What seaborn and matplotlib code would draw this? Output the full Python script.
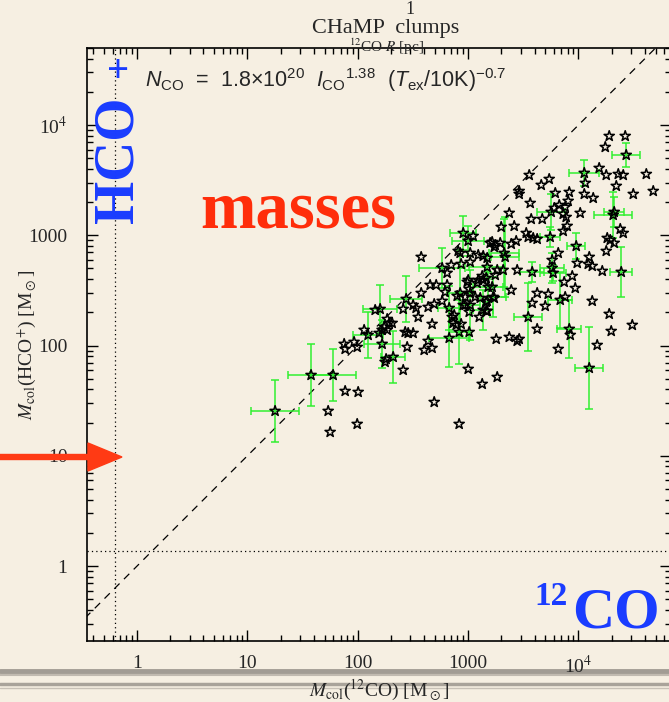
import numpy as np
import pandas as pd
import matplotlib
matplotlib.use("Agg")
import matplotlib.pyplot as plt
import seaborn as sns
from matplotlib.lines import Line2D
from matplotlib.patches import FancyArrow
from matplotlib.ticker import NullFormatter, LogLocator

# ---------------- data (log10 of masses in Msun) ----------------
log_m12co = [
    4.279, 4.424, 4.243, 4.433, 4.053, 4.188, 4.252, 4.361, 4.406, 4.615,
    3.554, 3.735, 3.663, 4.062, 4.343, 4.678, 4.497, 3.463, 3.463, 3.790,
    3.917, 4.053, 4.134, 3.907, 3.563, 3.826, 3.781, 3.880, 4.315, 4.324,
    3.373, 4.016, 3.862, 3.889, 3.753, 3.572, 3.672, 3.418, 3.300, 3.898,
    3.862, 4.379, 4.406, 3.327, 3.527, 3.545, 2.956, 3.046, 3.200, 3.237,
    3.391, 3.436, 3.590, 3.626, 3.744, 4.261, 4.288, 4.324, 3.980, 4.252,
    4.388, 3.817, 4.098, 4.125, 4.089, 3.989, 4.216, 3.944, 3.971, 3.771,
    3.835, 3.726, 3.626, 3.581, 3.699, 3.880, 4.125, 3.917, 3.926, 3.545,
    3.626, 4.279, 4.297, 4.488, 4.170, 3.817, 4.098, 3.255, 3.373, 3.445,
    3.463, 3.264, 3.128, 3.164, 3.164, 3.227, 3.391, 1.251, 1.577, 1.777,
    1.886, 2.004, 1.732, 1.995, 1.750, 1.877, 1.886, 1.967, 1.995, 2.058,
    2.094, 2.158, 2.203, 2.221, 2.267, 2.285, 2.312, 2.239, 2.267, 2.194,
    2.257, 2.248, 2.321, 2.412, 2.448, 2.439, 2.412, 2.575, 2.502, 2.529,
    2.548, 2.430, 2.457, 2.502, 2.638, 2.693, 2.765, 2.674, 2.638, 2.602,
    2.674, 2.829, 2.829, 2.919, 3.010, 3.001, 2.693, 2.919, 2.656, 2.711,
    2.792, 2.874, 2.865, 2.937, 2.956, 3.010, 3.101, 3.173, 3.019, 3.064,
    3.110, 3.173, 2.575, 3.001, 2.910, 2.928, 2.765, 2.810, 2.847, 2.937,
    3.019, 3.019, 3.092, 3.218, 3.246, 3.291, 3.173, 3.137, 2.810, 2.901,
    2.974, 3.010, 2.974, 3.237, 2.992, 3.092, 3.128, 3.164, 3.182, 3.246,
    3.264, 2.856, 2.892, 2.221, 3.336, 3.318, 3.445, 3.581, 3.762, 3.762,
    3.019, 2.928, 3.137, 3.218, 3.001, 3.082, 3.137, 3.871, 3.173,
]
log_mhco = [
    3.900, 3.900, 3.800, 3.728, 3.565, 3.610, 3.546, 3.555, 3.546, 3.555,
    3.546, 3.510, 3.456, 3.474, 3.447, 3.401, 3.374, 3.401, 3.374, 3.383,
    3.392, 3.374, 3.338, 3.311, 3.292, 3.274, 3.247, 3.256, 3.184, 3.211,
    3.202, 3.202, 3.193, 3.165, 3.211, 3.147, 3.147, 3.084, 3.075, 3.084,
    3.038, 3.057, 3.020, 2.839, 3.020, 2.984, 3.020, 2.993, 2.930, 2.893,
    2.921, 2.948, 2.975, 2.966, 2.984, 2.975, 2.957, 2.930, 2.902, 2.857,
    2.667, 2.839, 2.803, 2.721, 2.739, 2.748, 2.676, 2.630, 2.521, 2.658,
    2.413, 2.467, 2.476, 2.385, 2.358, 2.440, 2.404, 2.150, 2.095, 2.258,
    2.150, 2.286, 2.131, 2.186, 2.004, 1.968, 1.796, 2.059, 2.077, 2.041,
    2.059, 1.714, 1.651, 2.313, 2.394, 2.440, 2.503, 1.406, 1.732, 1.732,
    1.587, 1.578, 1.406, 1.288, 1.215, 2.014, 1.968, 2.032, 1.986, 2.141,
    2.095, 2.322, 2.331, 2.014, 2.240, 2.204, 2.204, 2.168, 2.141, 2.113,
    1.877, 1.850, 1.896, 1.778, 1.986, 2.422, 2.331, 2.476, 2.367, 2.340,
    2.258, 2.122, 2.113, 2.113, 2.349, 2.376, 2.404, 2.195, 2.041, 1.959,
    1.977, 2.068, 2.340, 2.122, 2.122, 1.787, 1.487, 1.288, 2.549, 2.549,
    2.485, 2.277, 2.204, 2.195, 2.367, 2.304, 2.258, 2.313, 2.476, 2.440,
    2.431, 2.404, 2.803, 2.948, 2.857, 2.839, 2.703, 2.658, 2.730, 2.739,
    2.757, 2.839, 2.821, 2.939, 2.911, 2.930, 2.794, 2.812, 2.549, 2.449,
    2.440, 2.512, 2.367, 2.431, 2.576, 2.594, 2.630, 2.612, 2.531, 2.639,
    2.685, 2.258, 2.186, 2.141, 2.803, 2.685, 2.685, 2.667, 2.775, 2.703,
    2.367, 2.476, 2.322, 2.531, 2.594, 2.567, 2.594, 2.576, 2.712,
]

# subset with error bars: centres (log10) and half-widths in dex
eb_log_m12co = [4.433, 4.053, 4.315, 4.324, 3.753, 3.327, 3.744, 3.980, 4.388, 3.771,
                3.835, 3.917, 3.545, 4.098, 3.227, 1.251, 1.577, 1.777, 2.094, 2.203,
                2.221, 2.321, 2.439, 2.829, 2.829, 2.919, 3.001, 2.765, 3.182, 2.956,
                3.336, 3.581, 3.762, 3.019, 2.928, 3.137, 3.173]
eb_log_mhco = [3.728, 3.565, 3.184, 3.211, 3.211, 2.839, 2.984, 2.902, 2.667, 2.658,
               2.413, 2.150, 2.258, 1.796, 2.440, 1.406, 1.732, 1.732, 2.095, 2.331,
               2.014, 1.896, 2.422, 2.068, 2.340, 2.122, 2.948, 2.703, 2.531, 3.020,
               2.803, 2.667, 2.703, 2.367, 2.476, 2.322, 2.712]
eb_dex_12co = [0.127, 0.136, 0.172, 0.091, 0.127, 0.136, 0.091, 0.082, 0.100, 0.118,
               0.109, 0.109, 0.127, 0.127, 0.118, 0.218, 0.209, 0.209, 0.136, 0.154,
               0.163, 0.109, 0.145, 0.181, 0.100, 0.091, 0.145, 0.209, 0.136, 0.118,
               0.127, 0.109, 0.109, 0.091, 0.118, 0.091, 0.163]
eb_dex_hco = [0.109, 0.118, 0.209, 0.136, 0.163, 0.308, 0.091, 0.118, 0.227, 0.073,
              0.254, 0.263, 0.308, 0.372, 0.181, 0.281, 0.281, 0.236, 0.209, 0.218,
              0.218, 0.236, 0.209, 0.263, 0.200, 0.290, 0.136, 0.181, 0.136, 0.154,
              0.363, 0.091, 0.136, 0.317, 0.390, 0.181, 0.109]

x_ticks = [1, 10, 100, 1000, 1e4]
x_ticklabels = ["1", "10", "100", "1000", "10$^4$"]
y_ticks = [1, 10, 100, 1000, 1e4]
y_ticklabels = ["1", "10", "100", "1000", "10$^4$"]
x_lim = (0.352, 6.9e4)
y_lim = (0.209, 5.0e4)
r_limit_mass = 0.632      # vertical dotted line
hco_limit_mass = 1.37     # horizontal dotted line

# ---------------- style ----------------
sns.set_theme(style="ticks")
BG = "#f6efe2"
plt.rcParams["font.family"] = ["Liberation Serif", "DejaVu Sans"]
plt.rcParams["mathtext.fontset"] = "stix"
plt.rcParams["mathtext.rm"] = "Liberation Sans"
plt.rcParams["mathtext.it"] = "Liberation Sans:italic"
plt.rcParams["mathtext.bf"] = "Liberation Sans:bold"

W, H = 669, 702
fig = plt.figure(figsize=(W / 100, H / 100), dpi=100, facecolor=BG)


def fx(px):
    return px / W


def fy(py):
    return 1 - py / H


ax = fig.add_axes([fx(87), fy(641), 584 / W, 593 / H])
ax.set_facecolor("none")

df = pd.DataFrame({"m12co": 10 ** np.array(log_m12co), "mhco": 10 ** np.array(log_mhco)})
eb = pd.DataFrame({
    "x": 10 ** np.array(eb_log_m12co), "y": 10 ** np.array(eb_log_mhco),
    "dx": np.array(eb_dex_12co), "dy": np.array(eb_dex_hco),
})

# error bars
ax.errorbar(
    eb["x"], eb["y"],
    xerr=[eb["x"] - eb["x"] / 10 ** eb["dx"], eb["x"] * 10 ** eb["dx"] - eb["x"]],
    yerr=[eb["y"] - eb["y"] / 10 ** eb["dy"], eb["y"] * 10 ** eb["dy"] - eb["y"]],
    fmt="none", ecolor="#2ef02e", elinewidth=1.2, capsize=3, capthick=1.2,
    alpha=0.9, zorder=2,
)

sns.scatterplot(
    data=df, x="m12co", y="mhco", marker="*", s=60,
    facecolors="none", edgecolor="black", linewidth=1.1, ax=ax, zorder=3,
)

ax.set_xscale("log")
ax.set_yscale("log")
ax.set_xlim(*x_lim)
ax.set_ylim(*y_lim)

# one-to-one line and limits
ax.plot([0.1, 1e5], [0.1, 1e5], color="black", lw=0.9, ls=(0, (6, 5)), zorder=1)
ax.axvline(r_limit_mass, color="black", lw=0.9, ls=(0, (1, 2.5)), zorder=1)
ax.axhline(hco_limit_mass, color="black", lw=0.9, ls=(0, (1, 2.5)), zorder=1)

ax.set_xticks(x_ticks)
ax.set_xticklabels(x_ticklabels)
ax.set_yticks(y_ticks)
ax.set_yticklabels(y_ticklabels)
ax.xaxis.set_minor_locator(LogLocator(base=10, subs=np.arange(2, 10)))
ax.yaxis.set_minor_locator(LogLocator(base=10, subs=np.arange(2, 10)))
ax.xaxis.set_minor_formatter(NullFormatter())
ax.yaxis.set_minor_formatter(NullFormatter())
ax.tick_params(which="both", direction="in", top=True, right=True, color="black", width=1.0)
ax.tick_params(which="major", length=8, labelsize=14)
ax.tick_params(axis="x", which="major", pad=10)
ax.tick_params(axis="y", which="major", pad=14)
ax.tick_params(which="minor", length=4)
for s in ax.spines.values():
    s.set_color("black")
    s.set_linewidth(1.2)

ax.set_xlabel(r"$\it{M}_{\rm col}$($^{12}$CO) [M$_\odot$]", fontsize=14, math_fontfamily="stix",
              va="center")
ax.xaxis.set_label_coords(0.5, -(690 - 641) / 593)
ax.set_ylabel(r"$\it{M}_{\rm col}$(HCO$^{+}$) [M$_\odot$]", fontsize=14, math_fontfamily="stix",
              va="center")
ax.yaxis.set_label_coords((27 - 87) / 584, 0.5)

# top texts (title / top axis remnants)
fig.text(fx(410), fy(9), "1", fontsize=13, ha="center", va="center")
fig.text(fx(386), fy(28), "CHaMP  clumps", fontsize=16, ha="center", va="center")
fig.text(fx(387), fy(47), r"$^{12}$CO $\it{R}$ [pc]", fontsize=11, ha="center", va="center",
         math_fontfamily="stix")

# formula
fig.text(fx(145), fy(80),
         r"$N_{\rm CO}$  =  1.8×10$^{20}$  $I_{\rm CO}$$^{1.38}$  ($T_{\rm ex}$/10K)$^{-0.7}$",
         fontsize=15.5, ha="left", va="center", family="Liberation Sans",
         math_fontfamily="custom")

# overlay annotations
BLUE = "#1a3cff"
RED = "#ff2d0a"
fig.text(fx(118), fy(160), "HCO", fontsize=40, fontweight="bold", color=BLUE,
         rotation=90, ha="center", va="center")
fig.text(fx(118), fy(72), "+", fontsize=28, fontweight="bold", color=BLUE,
         ha="center", va="center")
fig.text(fx(298), fy(228), "masses", fontsize=48, fontweight="bold", color=RED,
         ha="center", va="baseline")
fig.text(fx(534), fy(605), "12", fontsize=24, fontweight="bold", color=BLUE,
         ha="left", va="baseline")
fig.text(fx(572), fy(628), "CO", fontsize=42, fontweight="bold", color=BLUE,
         ha="left", va="baseline")

arrow = FancyArrow(0, H - 457, 122, 0, width=5, head_width=28, head_length=34,
                   length_includes_head=True, color="#ff3a14", transform=None, zorder=10)
fig.patches.append(arrow)

# worn bands at the bottom of the slide
for yy, lw, a in [(671, 3.5, 0.55), (675, 1.5, 0.35), (684, 2.5, 0.5), (688, 1.0, 0.3)]:
    fig.add_artist(Line2D([0, 1], [fy(yy), fy(yy)], transform=fig.transFigure,
                          color="#5e5954", lw=lw, alpha=a, zorder=0))

fig.savefig("out.png", dpi=100, facecolor=BG)
